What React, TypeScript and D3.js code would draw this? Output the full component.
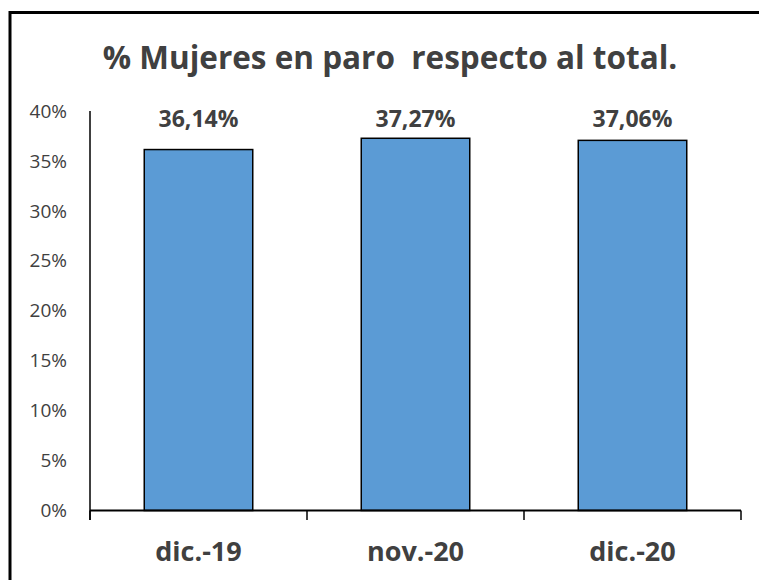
import React from "react";
import * as d3 from "d3";

const WIDTH = 759;
const HEIGHT = 580;

const categories = ["dic.-19", "nov.-20", "dic.-20"];
const values = [36.14, 37.27, 37.06];
const yTicks = [0, 5, 10, 15, 20, 25, 30, 35, 40];

const FONT = "'Open Sans', 'DejaVu Sans', sans-serif";
const TEXT = "#404040";

const App = () => {
  const x = d3.scaleBand().domain(categories).range([90, 741]).paddingInner(0.5).paddingOuter(0.25);
  const y = d3.scaleLinear().domain([0, 40]).range([510.5, 111]);
  const band = d3.scaleBand().domain(categories).range([90, 741]);

  const fmt = (v: number) => v.toFixed(2).replace(".", ",") + "%";

  return (
    <svg
      width={WIDTH}
      height={HEIGHT}
      style={{ position: "absolute", left: 0, top: 0, background: "#fff" }}
    >
      <rect x={10} y={12.5} width={800} height={700} fill="#fff" stroke="#000" strokeWidth={3} />
      <text
        x={390}
        y={69}
        textAnchor="middle"
        fontFamily={FONT}
        fontWeight="bold"
        fontSize={31.5}
        fill={TEXT}
        style={{ whiteSpace: "pre" }}
      >
        {"% Mujeres en paro  respecto al total."}
      </text>

      {/* y axis */}
      <line x1={90} x2={90} y1={111} y2={520} stroke="#000" strokeWidth={1.5} />
      {yTicks.map((t) => (
        <text
          key={t}
          x={67}
          y={y(t)}
          dy="0.35em"
          textAnchor="end"
          fontFamily={FONT}
          fontSize={19}
          fill={TEXT}
        >
          {t + "%"}
        </text>
      ))}

      {/* bars */}
      {categories.map((c, i) => (
        <g key={c}>
          <rect
            x={x(c)}
            y={y(values[i])}
            width={x.bandwidth()}
            height={y(0) - y(values[i])}
            fill="#5B9BD5"
            stroke="#000"
            strokeWidth={1.5}
          />
          <text
            x={x(c)! + x.bandwidth() / 2}
            y={127}
            textAnchor="middle"
            fontFamily={FONT}
            fontWeight="bold"
            fontSize={23}
            fill={TEXT}
          >
            {fmt(values[i])}
          </text>
          <text
            x={band(c)! + band.bandwidth() / 2}
            y={561}
            textAnchor="middle"
            fontFamily={FONT}
            fontWeight="bold"
            fontSize={27}
            fill={TEXT}
          >
            {c}
          </text>
        </g>
      ))}

      {/* x axis */}
      <line x1={90} x2={741} y1={510.5} y2={510.5} stroke="#000" strokeWidth={2} />
      {[...categories.map((c) => band(c)!), 741].map((tx, i) => (
        <line key={i} x1={tx} x2={tx} y1={510.5} y2={520} stroke="#000" strokeWidth={1.5} />
      ))}
    </svg>
  );
};

export default App;
